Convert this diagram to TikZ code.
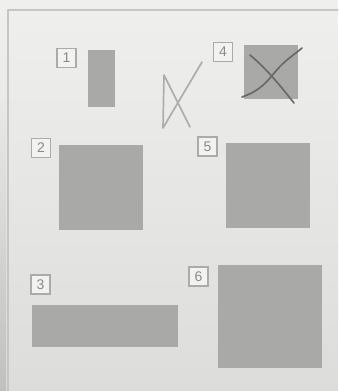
\documentclass[tikz,border=0pt]{standalone}
\usepackage{fontspec}
\setmainfont{Liberation Sans}
\definecolor{paper}{HTML}{E9E9E7}
\definecolor{paperdark}{HTML}{DCDCDA}
\definecolor{block}{HTML}{A9A9A8}
\definecolor{frame}{HTML}{C6C6C4}
\definecolor{tag}{HTML}{ABABA9}
\definecolor{tagtext}{HTML}{8A8A88}
\definecolor{pencil}{HTML}{6A6A68}
\tikzset{
  numtag/.style={draw=tag,line width=1.6pt,fill=paper!60!white,text=tagtext,
    minimum size=19pt,inner sep=0pt,font=\fontsize{14}{14}\selectfont},
  block/.style={fill=block,inner sep=0pt,draw=none},
  pencilline/.style={draw=pencil,line width=1.7pt,line cap=round,line join=round}
}
\begin{document}
\begin{tikzpicture}[x=1pt,y=-1pt]

\useasboundingbox
(0,0)
rectangle
(338,391);

\clip
(0,0)
rectangle
(338,391);

\shade[top color=paper!70!white,bottom color=paperdark]
(-5,-5)
rectangle
(345,396);

\shade[top color=paper,bottom color=gray!50]
(-5,100)
rectangle
(6,396);

\draw[frame,line width=1.4pt]
(345,10)
--
(8,10)
--
(8,396);

% first column
\node[numtag]
(t1)
at (66.5,58)
{1};

\node[block,minimum width=27pt,minimum height=57pt]
(b1)
at (101.5,78.5)
{};

\node[numtag]
(t2)
at (41,148)
{2};

\node[block,minimum width=84pt,minimum height=85pt]
(b2)
at (101,187.5)
{};

\node[numtag]
(t3)
at (40.5,284.5)
{3};

\node[block,minimum width=146pt,minimum height=42pt]
(b3)
at (105,326)
{};

% second column
\node[numtag]
(t4)
at (223,52)
{4};

\node[block,minimum width=54pt,minimum height=54pt]
(b4)
at (271,72)
{};

\node[numtag]
(t5)
at (207.5,146.5)
{5};

\node[block,minimum width=84pt,minimum height=85pt]
(b5)
at (268,185.5)
{};

\node[numtag]
(t6)
at (198.5,276.5)
{6};

\node[block,minimum width=104pt,minimum height=103pt]
(b6)
at (270,316.5)
{};

% pencil marks
\draw[pencilline,draw=pencil!55]
(202,62)
--
(163,128)
--
(164,75)
--
(190,127);

\draw[pencilline]
(250,55)
.. controls (268,70) and (282,88) ..
(294,103);

\draw[pencilline]
(242,97)
.. controls (262,90) and (268,80) ..
(276,71)
.. controls (285,60) and (294,55) ..
(302,48);

\end{tikzpicture}
\end{document}
